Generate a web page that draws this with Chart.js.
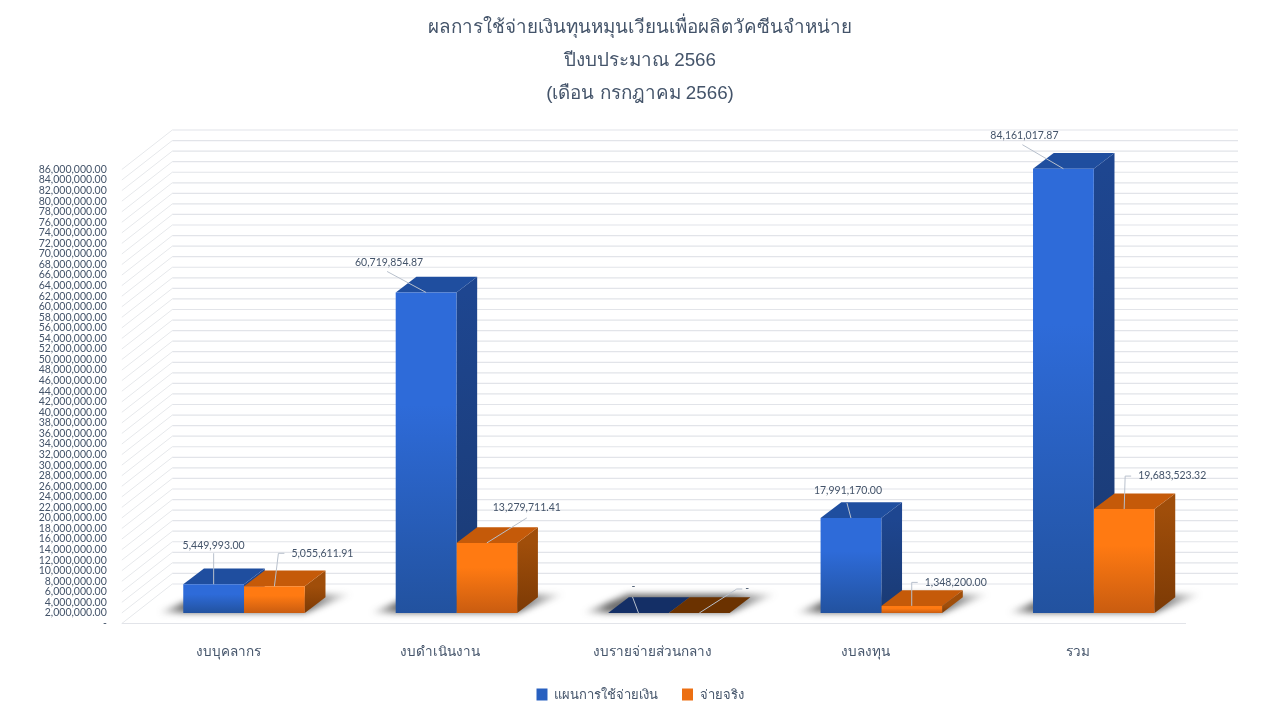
<!DOCTYPE html>
<html><head><meta charset="utf-8">
<style>html,body{margin:0;padding:0;background:#fff}canvas{display:block}</style>
<script src="https://cdn.jsdelivr.net/npm/chart.js@4"></script>
</head><body><canvas id="c" width="1280" height="720"></canvas>
<script>
const titleLines = ['ผลการใช้จ่ายเงินทุนหมุนเวียนเพื่อผลิตวัคซีนจำหน่าย','ปีงบประมาณ 2566','(เดือน กรกฎาคม 2566)'];
const categories = ['งบบุคลากร','งบดำเนินงาน','งบรายจ่ายส่วนกลาง','งบลงทุน','รวม'];
const seriesNames = ['แผนการใช้จ่ายเงิน','จ่ายจริง'];
const planValues = [5449993.00,60719854.87,0,17991170.00,84161017.87];
const actualValues = [5055611.91,13279711.41,0,1348200.00,19683523.32];
const yMax = 86000000, yStep = 2000000;

// callout placement relative to each bar's front-top centre: [text dx, text dy, align, elbow dx, elbow dy, stub end dx]
const calloutPlan = [[0,-39,'center',0,-31],[-37,-30,'center',-39,-21],[-5,-26,'center',-6,-16],[-3,-27,'center',-4,-15],[-39,-33,'center',-41,-24]];
const calloutActual = [[17,-33,'left',4,-33,10],[40,-35,'center',40,-25],[46,-24,'left',37.5,-24,43],[13,-23.5,'left',0,-23.5,6],[14,-33,'left',1,-33,7]];

const pal = [
 {a:'#2e6bd9',b:'#22529f',top:'#1f4e9f',s1:'#1e4690',s2:'#1a3a73',floor:'#142f66',legend:'#2860c0'},
 {a:'#ff7a12',b:'#c95c10',top:'#c55a09',s1:'#a04e0a',s2:'#7c3a05',floor:'#6b3200',legend:'#ec6f12'}
];
const DX = 20.7, DY = -15.7;
const textCol = '#44546a', FONT = 'Lato, "Noto Sans", sans-serif', TITLEFONT='"Liberation Sans", sans-serif';

function grad(i){
  return ctx=>{
    const ch=ctx.chart, y=ch.scales&&ch.scales.y;
    if(!ch.chartArea||!y||ctx.raw===undefined) return pal[i].legend;
    const top=y.getPixelForValue(ctx.raw), base=y.getPixelForValue(0);
    if(base-top<1) return 'rgba(0,0,0,0)';
    const g=ch.ctx.createLinearGradient(0,top,0,base);
    g.addColorStop(0,pal[i].a); g.addColorStop(0.35,pal[i].a); g.addColorStop(1,pal[i].b);
    return g;
  };
}
function poly(c,pts,fill){c.beginPath();pts.forEach((p,i)=>i?c.lineTo(p[0],p[1]):c.moveTo(p[0],p[1]));c.closePath();c.fillStyle=fill;c.fill();}

const wallPlugin={id:'wall',beforeDatasetsDraw(ch){
  const c=ch.ctx,y=ch.scales.y,a=ch.chartArea;
  const fx=a.left-16,fy=10.5,bx=a.left+34.5,by=-29,r=1238;
  c.save();
  y.ticks.forEach(t=>{
    const p=y.getPixelForValue(t.value);
    c.strokeStyle='#e6e8eb';c.lineWidth=1;
    c.beginPath();c.moveTo(fx,p+fy);c.lineTo(bx,p+by);c.stroke();
    c.strokeStyle='#e2e4e9';c.lineWidth=1.2;
    c.beginPath();c.moveTo(bx,p+by);c.lineTo(r,p+by);c.stroke();
  });
  const p0=y.getPixelForValue(0);
  c.strokeStyle='#e2e4e9';c.lineWidth=1.2;c.beginPath();c.moveTo(fx,p0+fy);c.lineTo(a.right-14,p0+fy);c.stroke();
  const m0=ch.getDatasetMeta(0).data,m1=ch.getDatasetMeta(1).data;
  m0.forEach((b,i)=>{
    const x0=b.x-b.width/2,x1=m1[i].x+m1[i].width/2,base=b.base;
    c.save();c.filter='blur(3px)';
    const L=x0-26,R=x1+48,W=R-L;
    const g=c.createLinearGradient(L,0,R,0);
    g.addColorStop(0,'rgba(50,50,50,0)');g.addColorStop((x0-L)/W,'rgba(50,50,50,.7)');
    g.addColorStop((x1+4-L)/W,'rgba(50,50,50,.7)');g.addColorStop(1,'rgba(50,50,50,0)');
    poly(c,[[x0-26,base],[x1,base],[x1+48,base-19],[x0+20,base-19]],g);
    c.restore();
  });
  [0,1].forEach(d=>{
    ch.getDatasetMeta(d).data.forEach(b=>{
      const x0=b.x-b.width/2,x1=b.x+b.width/2,t=b.y,base=b.base,P=pal[d];
      const flat=base-t<1;
      if(!flat){
        const g=c.createLinearGradient(0,t,0,base);g.addColorStop(0,P.s1);g.addColorStop(1,P.s2);
        poly(c,[[x1,t],[x1+DX,t+DY],[x1+DX,base+DY],[x1,base]],g);
      }
      poly(c,[[x0,t],[x0+DX,t+DY],[x1+DX,t+DY],[x1,t]],flat?P.floor:P.top);
    });
  });
  c.restore();
},afterDatasetsDraw(ch){
  const c=ch.ctx;
  c.save();
  c.font='10.5px '+FONT;c.textBaseline='middle';
  [[0,calloutPlan],[1,calloutActual]].forEach(([d,call])=>{
    const src=ch.data.datasets[d].data;
    ch.getDatasetMeta(d).data.forEach((b,i)=>{
      const [tx,ty,al,ex,ey,stub]=call[i];
      const v=src[i];
      const txt=v===0?'-':v.toLocaleString('en-US',{minimumFractionDigits:2,maximumFractionDigits:2});
      c.strokeStyle='#b8c0cc';c.lineWidth=1;c.beginPath();c.moveTo(b.x,b.y);c.lineTo(b.x+ex,b.y+ey);
      if(stub!==undefined)c.lineTo(b.x+stub,b.y+ey);
      c.stroke();
      c.fillStyle=textCol;c.textAlign=al;c.fillText(txt,b.x+tx,b.y+ty);
    });
  });
  c.restore();
}};

new Chart(document.getElementById('c'),{
  type:'bar',
  data:{labels:categories,datasets:[
    {label:seriesNames[0],data:planValues,backgroundColor:grad(0),barPercentage:1,categoryPercentage:0.572},
    {label:seriesNames[1],data:actualValues,backgroundColor:grad(1),barPercentage:1,categoryPercentage:0.572}
  ]},
  plugins:[wallPlugin],
  options:{
    responsive:false,animation:false,
    layout:{padding:{left:0,right:0,top:0,bottom:9}},
    plugins:{
      tooltip:{enabled:false},
      title:{display:true,text:titleLines,color:textCol,font:{family:TITLEFONT,size:18.8,weight:'normal',lineHeight:33/18.8},padding:{top:11,bottom:49}},
      legend:{position:'bottom',labels:{color:textCol,font:{family:FONT,size:13},boxWidth:11,boxHeight:12,padding:24,
        generateLabels(ch){return ch.data.datasets.map((d,i)=>({text:d.label,fillStyle:pal[i].legend,strokeStyle:pal[i].legend,lineWidth:0,datasetIndex:i,fontColor:textCol}));}}}
    },
    scales:{
      x:{grid:{display:false},border:{display:false},
        afterFit(s){s.height=51;},
        ticks:{color:textCol,font:{family:FONT,size:13.5},padding:23,labelOffset:-16,maxRotation:0}},
      y:{min:0,max:yMax,grid:{display:false},border:{display:false},
        afterFit(s){s.width=137.8;},
        ticks:{stepSize:yStep,autoSkip:false,color:textCol,font:{family:FONT,size:10.5},padding:23,labelOffset:10.5,
          callback:v=>v===0?'-':v.toLocaleString('en-US',{minimumFractionDigits:2,maximumFractionDigits:2})}},
      yRightGap:{position:'right',display:true,grid:{display:false},border:{display:false},ticks:{display:false},afterFit(s){s.width=80;}}
    }
  }
});
</script></body></html>
